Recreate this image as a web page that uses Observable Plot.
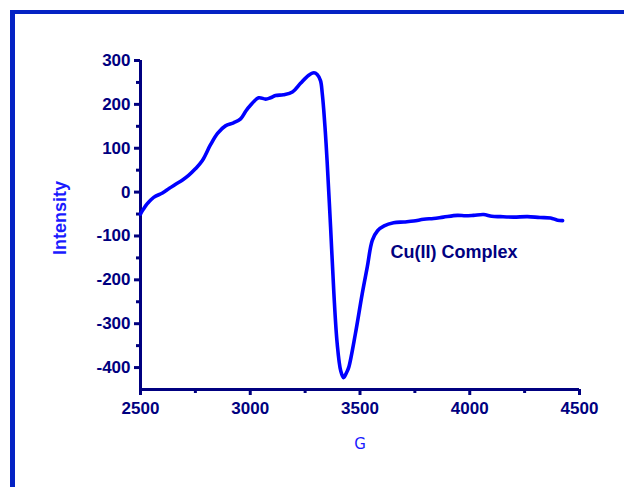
<!DOCTYPE html>
<html>
<head>
<meta charset="utf-8">
<script src="https://cdn.jsdelivr.net/npm/d3@7"></script>
<script src="https://cdn.jsdelivr.net/npm/@observablehq/plot@0.6"></script>
<style>
  html, body { margin: 0; padding: 0; background: #fff; }
  #wrap { position: relative; width: 624px; height: 487px; overflow: hidden; }
  #frameTop { position: absolute; left: 10px; top: 10px; width: 614px; height: 4px; background: #0422c4; }
  #frameLeft { position: absolute; left: 10px; top: 10px; width: 5px; height: 477px; background: #0422c4; }
  #chart { position: absolute; left: 0; top: 0; }
</style>
</head>
<body>
<div id="wrap">
  <div id="chart"></div>
  <div id="frameTop"></div>
  <div id="frameLeft"></div>
</div>
<script>
const gauss = [2500, 2512, 2530, 2560, 2600, 2630, 2660, 2690, 2719, 2750, 2782, 2819, 2851, 2887, 2924, 2956, 2980, 3001, 3038, 3070, 3092, 3115, 3151, 3192, 3229, 3265, 3290, 3305, 3320, 3328, 3335, 3343, 3350, 3366, 3381, 3396, 3412, 3425, 3440, 3449, 3479, 3510, 3533, 3556, 3580, 3610, 3653, 3700, 3744, 3790, 3835, 3880, 3944, 3980, 4017, 4063, 4100, 4140, 4200, 4263, 4320, 4368, 4400, 4423];
const intensity = [-50, -40, -27, -12, -2, 8, 18, 27, 38, 53, 72, 108, 134, 151, 158, 167, 185, 198, 215, 212, 215, 220, 222, 228, 248, 266, 272, 268, 254, 225, 186, 130, 72, -80, -231, -345, -407, -423, -410, -399, -323, -232, -171, -110, -88, -77, -70, -68, -66, -62, -60, -57, -53, -54, -53, -51, -55, -56, -57, -56, -58, -59, -64, -65];
const xTicks = [2500, 3000, 3500, 4000, 4500];
const xMinor = [2750, 3250, 3750, 4250];
const yTicks = [-400, -300, -200, -100, 0, 100, 200, 300];
const yMinor = [-350, -250, -150, -50, 50, 150, 250];
const xLabel = "G";
const yLabel = "Intensity";
const annotation = "Cu(II) Complex";

const data = gauss.map((g, i) => ({g, v: intensity[i]}));
const navy = "#000080";
const blue = "#0000ff";
const fmt = d => String(d);

const chart = Plot.plot({
  width: 624,
  height: 487,
  marginLeft: 140,
  marginRight: 45,
  marginTop: 60,
  marginBottom: 98,
  style: {fontFamily: "'Liberation Sans', Arial, sans-serif", background: "transparent", overflow: "visible"},
  x: {domain: [2500, 4500]},
  y: {domain: [-450, 300]},
  marks: [
    Plot.axisX({ticks: xTicks, tickFormat: fmt, tickSize: 6, tickPadding: 6, stroke: navy, strokeWidth: 3, fill: navy, fontSize: 17, fontWeight: "bold", label: null}),
    Plot.axisX({ticks: xMinor, tickSize: 4, text: null, stroke: navy, strokeWidth: 3, label: null}),
    Plot.axisY({ticks: yTicks, tickFormat: fmt, tickSize: 6, tickPadding: 4, stroke: navy, strokeWidth: 3, fill: navy, fontSize: 17, fontWeight: "bold", label: null}),
    Plot.axisY({ticks: yMinor, tickSize: 4, text: null, stroke: navy, strokeWidth: 3, label: null}),
    Plot.ruleY([-450], {stroke: navy, strokeWidth: 3}),
    Plot.ruleX([2500], {stroke: navy, strokeWidth: 3}),
    Plot.line(data, {x: "g", y: "v", stroke: blue, strokeWidth: 3.6, curve: "catmull-rom"}),
    Plot.text([annotation], {x: 3639, y: -138, text: d => d, textAnchor: "start", fill: navy, fontSize: 18, fontWeight: "bold"}),
    Plot.text([yLabel], {frameAnchor: "left", dx: -80, dy: -7, rotate: -90, textAnchor: "middle", lineAnchor: "middle", text: d => d, fill: "#1a1aff", fontSize: 18, fontWeight: "bold"}),
    Plot.text([xLabel], {frameAnchor: "bottom", dy: 55, textAnchor: "middle", lineAnchor: "middle", text: d => d, fill: "#1a1aff", fontSize: 15, fontFamily: "'DejaVu Sans', sans-serif"})
  ]
});
document.getElementById("chart").appendChild(chart);
</script>
</body>
</html>
